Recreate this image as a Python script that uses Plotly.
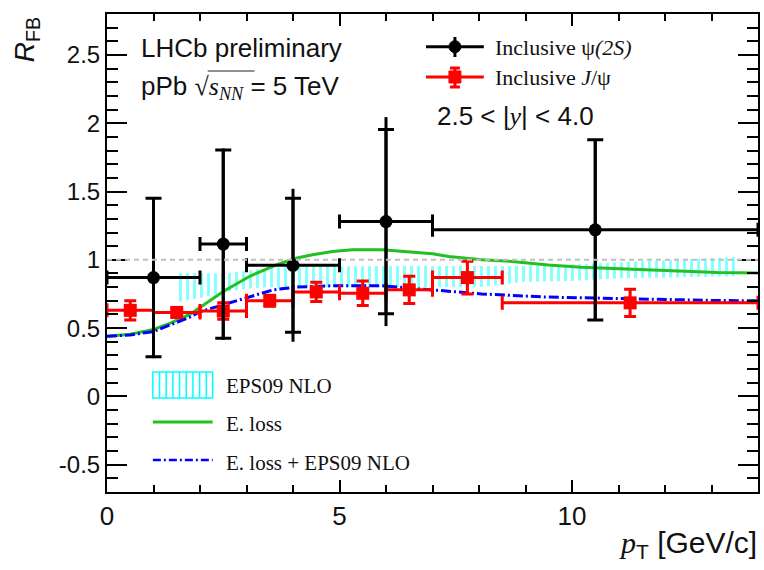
import plotly.graph_objects as go

W, H = 764, 570
ML, MR, MT, MB = 107, 4, 14, 78
PW = W - ML - MR
PH = H - MT - MB


def fx(p):
    return (p - ML) / PW


def fy(p):
    return (H - MB - p) / PH


SANS = "Liberation Sans"
SERIF = "Liberation Serif"

# ---------------- data ----------------
psi_x = [1.0, 2.5, 4.0, 6.0, 10.5]
psi_xerr = [1.0, 0.5, 1.0, 1.0, 3.5]
psi_y = [0.87, 1.115, 0.96, 1.28, 1.22]
psi_stat = [0.58, 0.69, 0.49, 0.675, 0.66]
psi_tot = [0.59, 0.70, 0.56, 0.765, 0.665]

jpsi_x = [0.5, 1.5, 2.5, 3.5, 4.5, 5.5, 6.5, 7.75, 11.25]
jpsi_xerr = [0.5, 0.5, 0.5, 0.5, 0.5, 0.5, 0.5, 0.75, 2.75]
jpsi_y = [0.63, 0.615, 0.625, 0.70, 0.765, 0.755, 0.78, 0.87, 0.685]
jpsi_err = [0.07, 0.035, 0.06, 0.04, 0.07, 0.09, 0.10, 0.12, 0.10]

eloss_x = [0.0, 0.5, 1.0, 1.35, 1.78, 2.0, 2.5, 3.06, 3.64, 4.06, 4.42, 4.85,
           5.28, 5.92, 6.49, 7.0, 7.35, 8.06, 8.71, 9.49, 10.2, 11.28, 12.13,
           13.13, 14.0]
eloss_y = [0.44, 0.455, 0.49, 0.535, 0.60, 0.65, 0.768, 0.878, 0.963, 1.012,
           1.037, 1.061, 1.073, 1.073, 1.056, 1.045, 1.024, 1.0, 0.988, 0.963,
           0.946, 0.932, 0.919, 0.907, 0.903]

comb_x = [0.0, 0.5, 1.0, 1.35, 1.78, 2.0, 2.5, 3.0, 3.57, 4.06, 4.85, 5.92,
          7.0, 8.06, 9.49, 11.28, 13.13, 14.0]
comb_y = [0.44, 0.45, 0.475, 0.52, 0.58, 0.62, 0.67, 0.72, 0.78, 0.80, 0.81,
          0.81, 0.78, 0.75, 0.727, 0.714, 0.702, 0.70]

eps_x = [1.5, 2.0, 2.5, 3.0, 3.5, 4.0, 5.0, 6.0, 7.0, 8.0, 8.5, 9.0, 10.0,
         10.6, 11.0, 12.0, 13.0, 13.5]
eps_lo = [0.69, 0.72, 0.76, 0.79, 0.80, 0.80, 0.80, 0.80, 0.80, 0.80, 0.82,
          0.84, 0.845, 0.86, 0.866, 0.87, 0.878, 0.88]
eps_hi = [0.905, 0.905, 0.90, 0.92, 0.94, 0.95, 0.955, 0.955, 0.955, 0.955,
          0.955, 0.955, 0.965, 0.975, 0.98, 0.995, 1.01, 1.02]

y_tickvals = [-0.5, 0, 0.5, 1, 1.5, 2, 2.5]
y_ticktext = ["-0.5", "0", "0.5", "1", "1.5", "2", "2.5"]
x_tickvals = [0, 5, 10]
x_ticktext = ["0", "5", "10"]

RED = "#ff0000"
GREEN = "#22c022"
BLUE = "#0000ff"
CYAN = "#00ffff"

fig = go.Figure()

# EPS09 band (hatched)
fig.add_trace(go.Scatter(x=eps_x, y=eps_lo, mode="lines", line=dict(width=0),
                         showlegend=False, hoverinfo="skip"))
fig.add_trace(go.Scatter(x=eps_x, y=eps_hi, mode="lines", line=dict(width=0),
                         fill="tonexty", fillcolor="rgba(0,0,0,0)",
                         fillpattern=dict(shape="|", fgcolor=CYAN,
                                          bgcolor="rgba(0,0,0,0)", size=7,
                                          solidity=0.4),
                         showlegend=False, hoverinfo="skip"))

# E. loss
fig.add_trace(go.Scatter(x=eloss_x, y=eloss_y, mode="lines",
                         line=dict(color=GREEN, width=3), showlegend=False))
# E. loss + EPS09
fig.add_trace(go.Scatter(x=comb_x, y=comb_y, mode="lines",
                         line=dict(color=BLUE, width=3, dash="10px,3px,2px,3px"),
                         showlegend=False))

# J/psi
fig.add_trace(go.Scatter(
    x=jpsi_x, y=jpsi_y, mode="markers",
    marker=dict(symbol="square", size=13, color=RED),
    error_x=dict(type="data", array=jpsi_xerr, color=RED, thickness=3, width=7),
    error_y=dict(type="data", array=jpsi_err, color=RED, thickness=3, width=6),
    showlegend=False))

# psi(2S) total (no caps)
fig.add_trace(go.Scatter(
    x=psi_x, y=psi_y, mode="markers",
    marker=dict(size=1, color="rgba(0,0,0,0)"),
    error_y=dict(type="data", array=psi_tot, color="black", thickness=3, width=0),
    showlegend=False, hoverinfo="skip"))
# psi(2S) stat with caps
fig.add_trace(go.Scatter(
    x=psi_x, y=psi_y, mode="markers",
    marker=dict(symbol="circle", size=13, color="black"),
    error_x=dict(type="data", array=psi_xerr, color="black", thickness=3, width=7),
    error_y=dict(type="data", array=psi_stat, color="black", thickness=3, width=8),
    showlegend=False))

# reference line at 1
fig.add_hline(y=1, line=dict(color="#c0c0c0", width=2, dash="5px,4px"))

shapes = []
# ---- top legend glyphs ----
shapes.append(dict(type="line", xref="paper", yref="paper", x0=fx(427), x1=fx(485),
                   y0=fy(46.7), y1=fy(46.7), line=dict(color="black", width=3)))
shapes.append(dict(type="line", xref="paper", yref="paper", x0=fx(456), x1=fx(456),
                   y0=fy(37), y1=fy(57), line=dict(color="black", width=3)))
shapes.append(dict(type="circle", xref="paper", yref="paper", x0=fx(450), x1=fx(462),
                   y0=fy(40.7), y1=fy(52.7), fillcolor="black",
                   line=dict(color="black", width=1)))
shapes.append(dict(type="line", xref="paper", yref="paper", x0=fx(427), x1=fx(485),
                   y0=fy(77), y1=fy(77), line=dict(color=RED, width=3)))
shapes.append(dict(type="line", xref="paper", yref="paper", x0=fx(456), x1=fx(456),
                   y0=fy(68), y1=fy(87), line=dict(color=RED, width=3)))
for yy in (68, 87):
    shapes.append(dict(type="line", xref="paper", yref="paper", x0=fx(451), x1=fx(461),
                       y0=fy(yy), y1=fy(yy), line=dict(color=RED, width=3)))
shapes.append(dict(type="rect", xref="paper", yref="paper", x0=fx(450), x1=fx(462),
                   y0=fy(71), y1=fy(83), fillcolor=RED, line=dict(color=RED, width=1)))

# ---- bottom legend glyphs ----
shapes.append(dict(type="rect", xref="paper", yref="paper", x0=fx(153), x1=fx(213),
                   y0=fy(372), y1=fy(398), line=dict(color=CYAN, width=1.5)))
path = ""
xx = 159.7
while xx < 212:
    path += "M%.5f,%.5f L%.5f,%.5f " % (fx(xx), fy(372), fx(xx), fy(398))
    xx += 6.7
shapes.append(dict(type="path", xref="paper", yref="paper", path=path,
                   line=dict(color=CYAN, width=1.5)))
shapes.append(dict(type="line", xref="paper", yref="paper", x0=fx(153), x1=fx(213),
                   y0=fy(422), y1=fy(422), line=dict(color=GREEN, width=3)))
shapes.append(dict(type="line", xref="paper", yref="paper", x0=fx(153), x1=fx(213),
                   y0=fy(460), y1=fy(460), line=dict(color=BLUE, width=2.5,
                                                     dash="8px,3px,2px,3px")))
# sqrt overline
shapes.append(dict(type="line", xref="paper", yref="paper", x0=fx(208), x1=fx(255),
                   y0=fy(71), y1=fy(71), line=dict(color="#222", width=1.2)))

annotations = []


def ann(text, x, y, size, family=SANS, xanchor="left", yanchor="middle", angle=0):
    annotations.append(dict(text=text, xref="paper", yref="paper", x=fx(x), y=fy(y),
                            xanchor=xanchor, yanchor=yanchor, showarrow=False,
                            textangle=angle,
                            font=dict(family=family, size=size, color="#111")))


ann("LHCb preliminary", 139, 48, 26)
ann("pPb <span style='font-family:Liberation Serif'>√<i>s</i><sub><i>NN</i></sub></span> = 5 TeV",
    139, 87, 26)
ann("2.5 &lt; |<span style='font-family:Liberation Serif'><i>y</i></span>| &lt; 4.0",
    436, 116, 26)
ann("Inclusive ψ<i>(2S)</i>", 494, 47, 22, SERIF)
ann("Inclusive <i>J</i>/ψ", 494, 77, 22, SERIF)
ann("EPS09 NLO", 224, 386, 21, SERIF)
ann("E. loss", 224, 424, 21, SERIF)
ann("E. loss + EPS09 NLO", 224, 463, 21, SERIF)
ann("<span style='font-family:Liberation Serif'><i>p</i></span><sub>T</sub> [GeV/c]",
    761, 544, 30, xanchor="right")
ann("<i>R</i><sub>FB</sub>", 27, 40, 28, angle=-90, xanchor="center")

axis_common = dict(showline=True, linewidth=2, linecolor="black", mirror="ticks",
                   ticks="inside", tickwidth=2, tickcolor="black", showgrid=False,
                   zeroline=False)

fig.update_layout(
    width=W, height=H,
    margin=dict(l=ML, r=MR, t=MT, b=MB),
    paper_bgcolor="white", plot_bgcolor="white",
    showlegend=False,
    shapes=list(fig.layout.shapes) + shapes,
    annotations=annotations,
    xaxis=dict(range=[0, 14], tickvals=x_tickvals, ticktext=x_ticktext, ticklen=12,
               tickfont=dict(family=SANS, size=26, color="#111"),
               minor=dict(ticks="inside", ticklen=7, tickwidth=2, tickcolor="black",
                          dtick=1, tick0=0, showgrid=False),
               **axis_common),
    yaxis=dict(range=[-0.7, 2.8], tickvals=y_tickvals, ticktext=y_ticktext, ticklen=20,
               tickfont=dict(family=SANS, size=24, color="#111"),
               minor=dict(ticks="inside", ticklen=11, tickwidth=2, tickcolor="black",
                          dtick=0.1, tick0=0, showgrid=False),
               **axis_common),
)

fig.write_html("out.html")
